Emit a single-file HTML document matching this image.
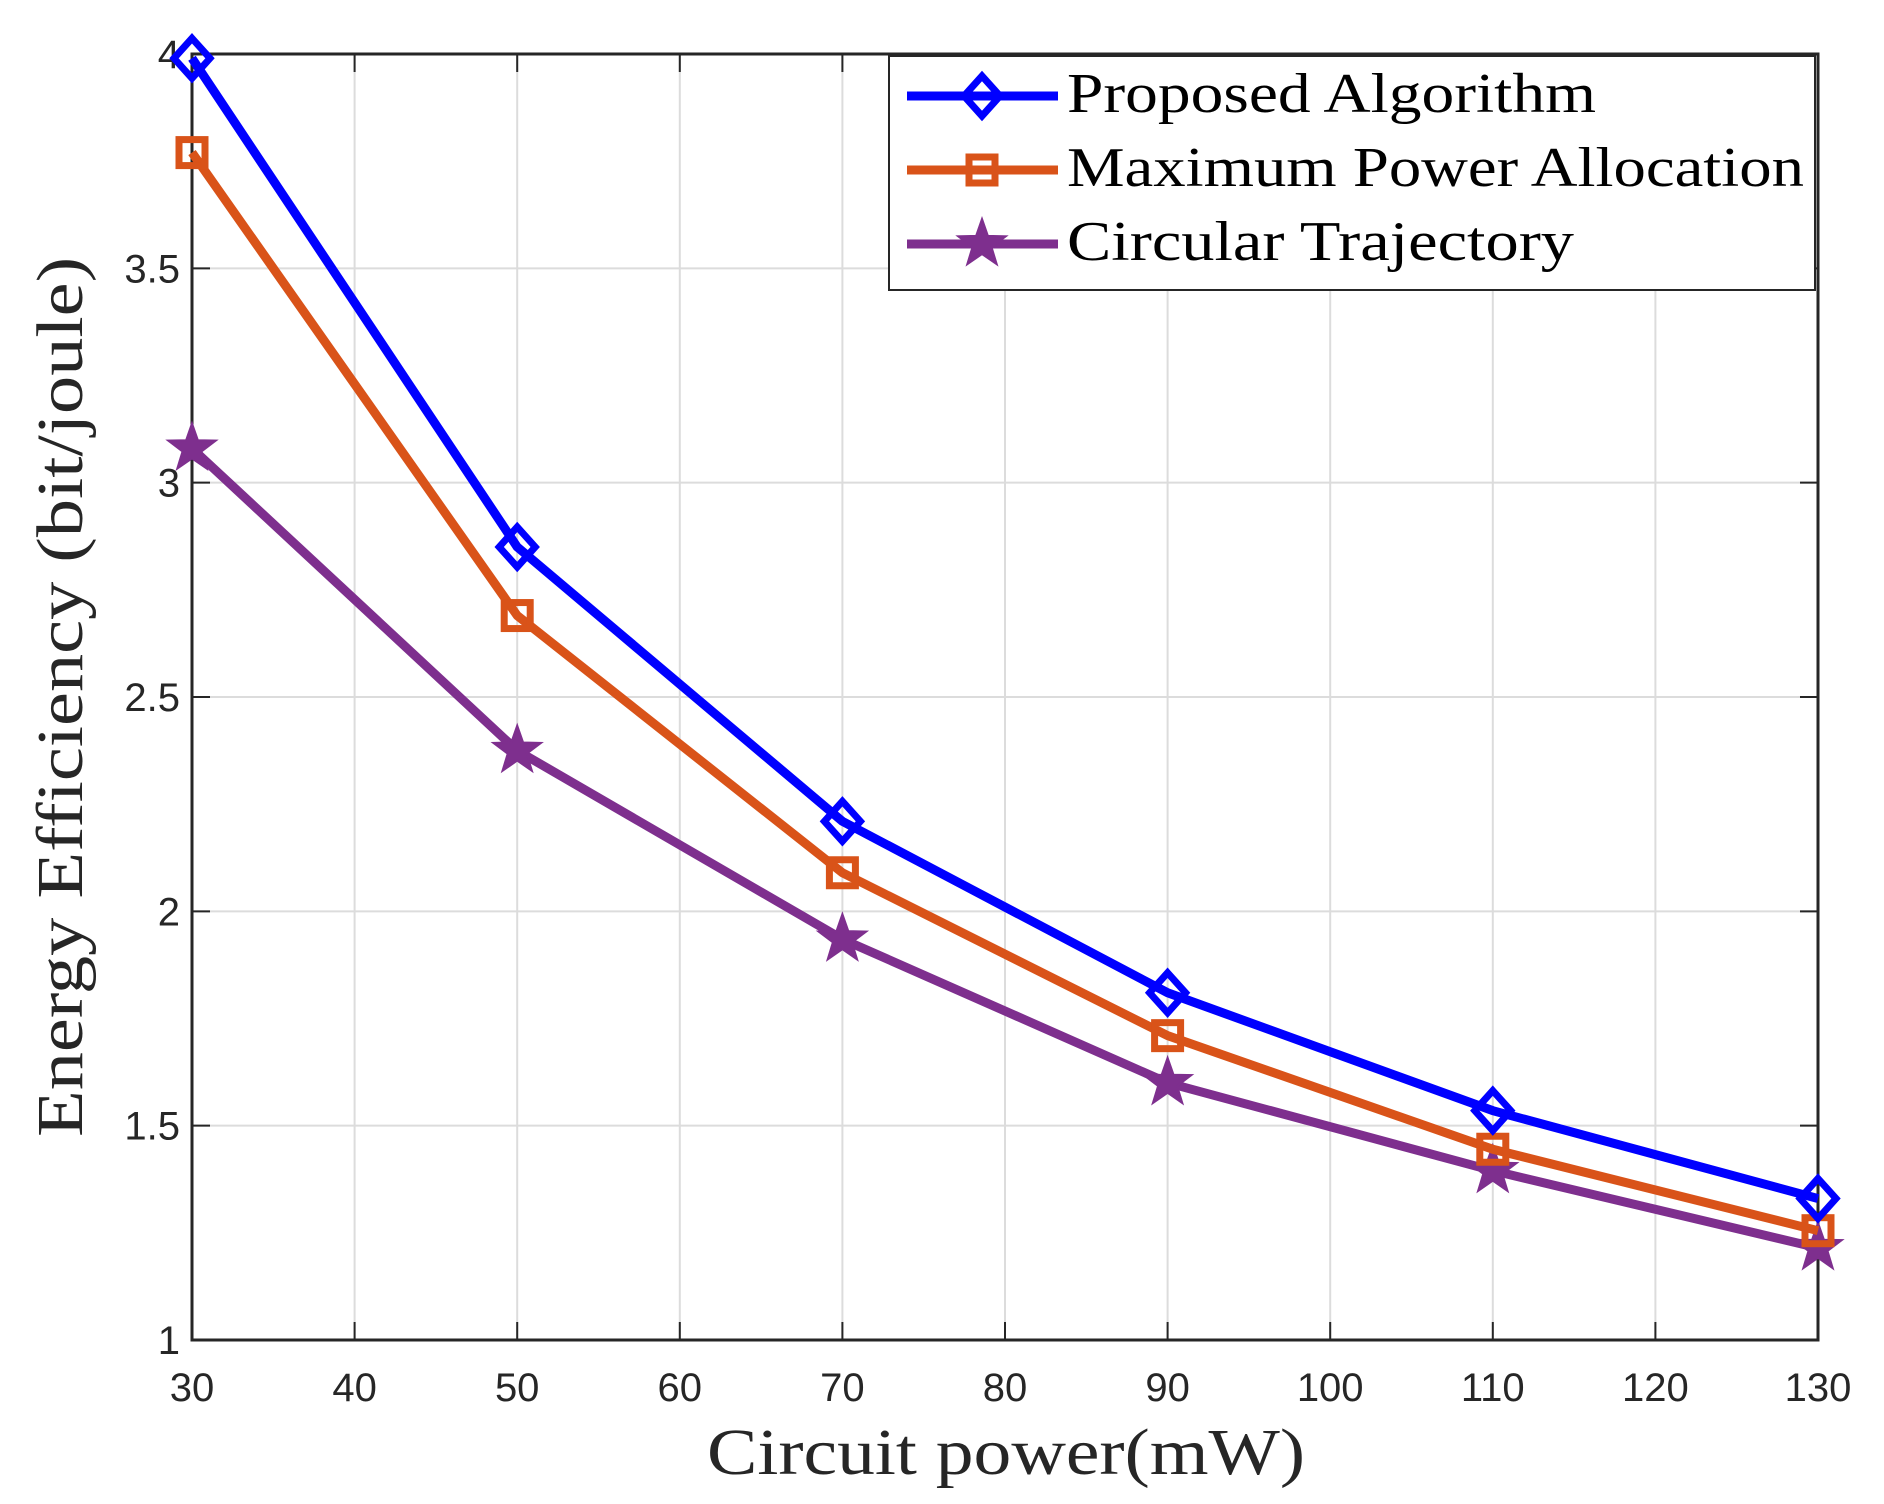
<!DOCTYPE html>
<html><head><meta charset="utf-8"><style>body{margin:0;background:#fff}svg{display:block}</style></head>
<body>
<svg id="chart" width="1884" height="1504" viewBox="0 0 1884 1504" xmlns="http://www.w3.org/2000/svg">
<rect width="1884" height="1504" fill="#fff"/>
<g id="grid"></g><g id="axes"></g><g id="series"></g><g id="legend"></g>
</svg>
<script>
const categories=[30,50,70,90,110,130];
const proposed=[3.99,2.85,2.21,1.81,1.535,1.33];
const maxPower=[3.77,2.69,2.09,1.71,1.445,1.255];
const circular=[3.08,2.375,1.935,1.6,1.395,1.215];
const xTicks=[30,40,50,60,70,80,90,100,110,120,130];
const yTicks=[1,1.5,2,2.5,3,3.5,4];
const yTickLabels=['1','1.5','2','2.5','3','3.5','4'];
const seriesNames=['Proposed Algorithm','Maximum Power Allocation','Circular Trajectory'];

const NS='http://www.w3.org/2000/svg';
const L=192,R=1818,T=54,B=1340;
const X=v=>L+(v-30)/100*(R-L);
const Y=v=>B-(v-1)/3*(B-T);
function mk(tag,attrs,parent){const e=document.createElementNS(NS,tag);for(const k in attrs)e.setAttribute(k,attrs[k]);parent.appendChild(e);return e;}
const grid=document.getElementById('grid'),axes=document.getElementById('axes'),ser=document.getElementById('series'),leg=document.getElementById('legend');
xTicks.forEach(t=>{const g=mk('line',{x1:X(t),x2:X(t),y1:T,y2:B,stroke:'#dcdcdc','stroke-width':2},grid);


mk('line',{x1:X(t),x2:X(t),y1:B,y2:B-18,stroke:'#262626','stroke-width':2},axes);
mk('line',{x1:X(t),x2:X(t),y1:T,y2:T+18,stroke:'#262626','stroke-width':2},axes);
const tx=mk('text',{x:X(t),y:1401,'text-anchor':'middle','font-family':'Liberation Sans, sans-serif','font-size':40,fill:'#262626'},axes);tx.textContent=t;

});
yTicks.forEach((t,i)=>{const g=mk('line',{x1:L,x2:R,y1:Y(t),y2:Y(t),stroke:'#dcdcdc','stroke-width':2},grid);


mk('line',{x1:L,x2:L+18,y1:Y(t),y2:Y(t),stroke:'#262626','stroke-width':2},axes);
mk('line',{x1:R,x2:R-18,y1:Y(t),y2:Y(t),stroke:'#262626','stroke-width':2},axes);
const tx=mk('text',{x:180,y:Y(t)+14,'text-anchor':'end','font-family':'Liberation Sans, sans-serif','font-size':40,fill:'#262626'},axes);tx.textContent=yTickLabels[i];

});
const box=mk('rect',{x:L,y:T,width:R-L,height:B-T,fill:'none',stroke:'#262626','stroke-width':3},axes);


const xl=mk('text',{x:1006,y:1474,'text-anchor':'middle','font-family':'Liberation Serif, serif','font-size':66,fill:'#262626',textLength:598,lengthAdjust:'spacingAndGlyphs'},axes);xl.textContent='Circuit power(mW)';


const yl=mk('text',{x:0,y:0,transform:'translate(82,697) rotate(-90)','text-anchor':'middle','font-family':'Liberation Serif, serif','font-size':66,fill:'#262626',textLength:880,lengthAdjust:'spacingAndGlyphs'},axes);yl.textContent='Energy Efficiency (bit/joule)';



function marker(type,x,y,color,parent){
 if(type==='d'){return mk('polygon',{points:`${x},${y-20} ${x+18},${y} ${x},${y+20} ${x-18},${y}`,fill:'none',stroke:color,'stroke-width':7},parent);}
 if(type==='s'){return mk('rect',{x:x-13,y:y-13,width:26,height:26,fill:'none',stroke:color,'stroke-width':7},parent);}
 const p=[];for(let i=0;i<10;i++){const r=i%2?10:25;const a=-Math.PI/2+i*Math.PI/5;p.push((x+r*Math.cos(a)).toFixed(1)+','+(y+r*Math.sin(a)).toFixed(1));}
 return mk('polygon',{points:p.join(' '),fill:color,stroke:color,'stroke-width':2},parent);
}
const all=[[proposed,'#0000ff','d','proposed'],[maxPower,'#d95319','s','max-power'],[circular,'#7e2f8e','p','circular']];
all.slice().reverse().forEach(([vals,color,m,name])=>{
 const g=mk('g',{},ser);
 
 
 const ln=mk('polyline',{points:vals.map((v,i)=>X(categories[i])+','+Y(v)).join(' '),fill:'none',stroke:color,'stroke-width':9,'stroke-linejoin':'round'},g);
 
 
 vals.forEach((v,i)=>{const mm=marker(m,X(categories[i]),Y(v),color,g);
 
 });
});
const lb=mk('rect',{x:889,y:56,width:926,height:234,fill:'#fff',stroke:'#262626','stroke-width':2},leg);


[96,170,244].forEach((yy,i)=>{const [vals,color,m]=all[i];
 const g=mk('g',{},leg);
 
 
 mk('line',{x1:907,x2:1058,y1:yy,y2:yy,stroke:color,'stroke-width':9},g);
 marker(m,982,yy,color,g);
 const widths=[529,737,507];
 const t=mk('text',{x:1067,y:yy+16,'font-family':'Liberation Serif, serif','font-size':56,fill:'#000',textLength:widths[i],lengthAdjust:'spacingAndGlyphs'},g);t.textContent=seriesNames[i];
 
 
});
</script>
</body></html>
